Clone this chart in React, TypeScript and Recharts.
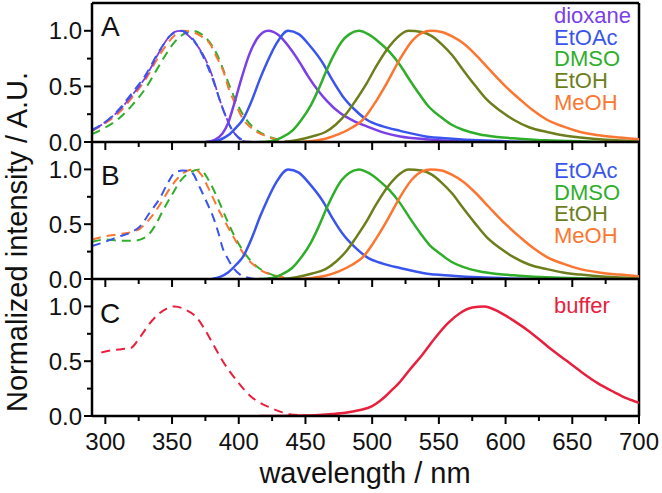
import { LineChart, Line, XAxis, YAxis, ReferenceLine } from "recharts";

const FONT = "'Liberation Sans', Arial, Helvetica, sans-serif";

// tick values
const X_TICKS = [300, 325, 350, 375, 400, 425, 450, 475, 500, 525, 550, 575, 600, 625, 650, 675, 700];
const Y_TICKS = [0, 0.25, 0.5, 0.75, 1.0];

// panel A - absorption (dashed)
const dioxaneAbsA: [number, number][] = [
  [290, 0.1], [300, 0.18], [310, 0.28], [320, 0.42], [330, 0.58], [340, 0.8], [346, 0.92], [352, 0.99],
  [356, 1.0], [362, 0.96], [368, 0.88], [374, 0.77], [380, 0.6], [386, 0.37], [390, 0.24], [394, 0.13],
  [398, 0.06], [403, 0.01], [410, 0],
];
const etoacAbsA: [number, number][] = [
  [290, 0.11], [300, 0.18], [310, 0.29], [320, 0.44], [330, 0.6], [340, 0.81], [350, 0.97], [357, 1.0],
  [364, 0.95], [372, 0.8], [380, 0.58], [388, 0.3], [394, 0.13], [400, 0.04], [408, 0],
];
const dmsoAbsA: [number, number][] = [
  [290, 0.07], [300, 0.13], [310, 0.21], [320, 0.33], [330, 0.48], [340, 0.68], [345, 0.78], [352, 0.9],
  [360, 0.98], [366, 1.0], [372, 0.97], [378, 0.9], [384, 0.78], [390, 0.6], [396, 0.42], [402, 0.27],
  [410, 0.14], [420, 0.06], [430, 0.02], [440, 0],
];
const meohAbsA: [number, number][] = [
  [290, 0.1], [300, 0.17], [310, 0.26], [320, 0.4], [330, 0.56], [340, 0.77], [345, 0.86], [352, 0.96],
  [358, 1.0], [365, 0.99], [372, 0.95], [378, 0.89], [384, 0.75], [388, 0.65], [393, 0.46], [398, 0.33],
  [403, 0.21], [410, 0.12], [421, 0.05], [430, 0.02], [440, 0],
];

// emission (solid), shared by A and B
const dioxaneEm: [number, number][] = [
  [375, 0], [382, 0.02], [388, 0.08], [392, 0.17], [396, 0.32], [402, 0.57], [408, 0.79], [415, 0.95],
  [422, 1.0], [430, 0.96], [438, 0.85], [446, 0.71], [452, 0.59], [459, 0.47], [466, 0.37], [476, 0.26],
  [486, 0.19], [496, 0.14], [510, 0.08], [521, 0.05], [540, 0.025], [560, 0.01], [600, 0],
];
const etoacEm: [number, number][] = [
  [380, 0], [386, 0.02], [392, 0.06], [398, 0.13], [403, 0.2], [410, 0.38], [416, 0.57], [421, 0.71],
  [428, 0.88], [437, 1.0], [445, 0.97], [453, 0.87], [463, 0.71], [470, 0.56], [478, 0.41], [487, 0.29],
  [496, 0.2], [508, 0.14], [521, 0.1], [540, 0.05], [560, 0.03], [580, 0.015], [620, 0],
];
const dmsoEm: [number, number][] = [
  [415, 0], [425, 0.01], [432, 0.04], [440, 0.1], [447, 0.2], [454, 0.33], [460, 0.48], [466, 0.65],
  [472, 0.8], [477, 0.9], [483, 0.97], [490, 1.0], [497, 0.97], [505, 0.9], [513, 0.81], [521, 0.69],
  [528, 0.56], [536, 0.42], [543, 0.31], [551, 0.23], [559, 0.16], [568, 0.11], [580, 0.07], [594, 0.045],
  [610, 0.03], [630, 0.015], [660, 0.005], [700, 0],
];
const etohEm: [number, number][] = [
  [435, 0], [445, 0.02], [455, 0.05], [465, 0.09], [473, 0.16], [481, 0.26], [488, 0.38], [496, 0.53],
  [503, 0.68], [511, 0.83], [518, 0.93], [527, 1.0], [537, 0.99], [545, 0.95], [552, 0.88], [560, 0.78],
  [568, 0.65], [577, 0.51], [586, 0.38], [596, 0.28], [606, 0.2], [618, 0.13], [631, 0.09], [643, 0.06],
  [656, 0.04], [675, 0.02], [700, 0.01],
];
const meohEm: [number, number][] = [
  [445, 0], [455, 0.01], [465, 0.03], [475, 0.07], [485, 0.13], [493, 0.2], [502, 0.35], [511, 0.53],
  [521, 0.75], [530, 0.91], [537, 0.98], [544, 1.0], [552, 0.99], [560, 0.95], [568, 0.89], [578, 0.78],
  [588, 0.65], [600, 0.5], [611, 0.38], [621, 0.28], [631, 0.2], [643, 0.14], [656, 0.09], [670, 0.06],
  [685, 0.04], [700, 0.025],
];

// panel B - absorption (dashed)
const etoacAbsB: [number, number][] = [
  [290, 0.3], [300, 0.34], [311, 0.39], [320, 0.43], [326, 0.48], [333, 0.6], [341, 0.74], [347, 0.88],
  [352, 0.97], [358, 0.99], [364, 0.98], [371, 0.83], [376, 0.7], [381, 0.56], [385, 0.41], [388, 0.28],
  [392, 0.18], [396, 0.1], [401, 0.04], [408, 0.01], [412, 0],
];
const dmsoAbsB: [number, number][] = [
  [290, 0.34], [300, 0.36], [311, 0.35], [322, 0.35], [330, 0.38], [337, 0.48], [343, 0.62], [350, 0.77],
  [356, 0.89], [363, 0.97], [371, 1.0], [377, 0.91], [384, 0.74], [390, 0.57], [396, 0.41], [402, 0.28],
  [408, 0.18], [415, 0.1], [421, 0.06], [430, 0.02], [440, 0],
];
const meohAbsB: [number, number][] = [
  [290, 0.36], [300, 0.39], [311, 0.41], [320, 0.43], [326, 0.46], [334, 0.56], [341, 0.68], [348, 0.82],
  [355, 0.93], [362, 0.99], [367, 1.0], [372, 0.95], [378, 0.81], [385, 0.63], [393, 0.45], [400, 0.3],
  [406, 0.19], [412, 0.12], [418, 0.07], [428, 0.03], [440, 0],
];

// panel C - buffer
const bufferAbs: [number, number][] = [
  [297, 0.58], [305, 0.6], [312, 0.61], [319, 0.62], [326, 0.72], [333, 0.84], [339, 0.92], [346, 0.98],
  [352, 1.0], [360, 0.97], [369, 0.89], [375, 0.78], [381, 0.65], [387, 0.52], [393, 0.41], [400, 0.3],
  [408, 0.19], [416, 0.12], [423, 0.08], [431, 0.04], [438, 0.015], [450, 0.005], [460, 0],
];
const bufferEm: [number, number][] = [
  [415, 0], [440, 0.003], [460, 0.01], [470, 0.018], [480, 0.03], [490, 0.052], [500, 0.09], [505, 0.13],
  [510, 0.18], [515, 0.24], [520, 0.3], [528, 0.42], [537, 0.55], [547, 0.71], [557, 0.85], [566, 0.94],
  [575, 0.99], [584, 1.0], [595, 0.95], [606, 0.87], [619, 0.76], [632, 0.63], [645, 0.51], [657, 0.4],
  [669, 0.3], [681, 0.22], [691, 0.16], [700, 0.12],
];

const legendA = ["dioxane", "EtOAc", "DMSO", "EtOH", "MeOH"];
const legendB = ["EtOAc", "DMSO", "EtOH", "MeOH"];
const legendC = ["buffer"];

const COLORS: Record<string, string> = {
  dioxane: "#7a3fe6",
  EtOAc: "#3a55ee",
  DMSO: "#2fae2a",
  EtOH: "#6d7f1c",
  MeOH: "#fb7630",
  buffer: "#e8203e",
};

const pts = (arr: [number, number][]) => arr.map(([x, y]) => ({ x, y }));

type Series = { data: [number, number][]; color: string; dashed?: boolean; w?: number; dash?: string };

const panelA: Series[] = [
  { data: dmsoAbsA, color: COLORS.DMSO, dashed: true },
  { data: meohAbsA, color: COLORS.MeOH, dashed: true },
  { data: dioxaneAbsA, color: COLORS.dioxane, dashed: true, dash: "12 2", w: 1.8 },
  { data: etoacAbsA, color: COLORS.EtOAc, dashed: true },
  { data: dioxaneEm, color: COLORS.dioxane },
  { data: etoacEm, color: COLORS.EtOAc },
  { data: dmsoEm, color: COLORS.DMSO },
  { data: etohEm, color: COLORS.EtOH },
  { data: meohEm, color: COLORS.MeOH },
];
const panelB: Series[] = [
  { data: dmsoAbsB, color: COLORS.DMSO, dashed: true },
  { data: meohAbsB, color: COLORS.MeOH, dashed: true },
  { data: etoacAbsB, color: COLORS.EtOAc, dashed: true },
  { data: etoacEm, color: COLORS.EtOAc },
  { data: dmsoEm, color: COLORS.DMSO },
  { data: etohEm, color: COLORS.EtOH },
  { data: meohEm, color: COLORS.MeOH },
];
const panelC: Series[] = [
  { data: bufferAbs, color: COLORS.buffer, dashed: true },
  { data: bufferEm, color: COLORS.buffer },
];

const XTick = (props: any) => {
  const { x, y, payload, showLabel } = props;
  const major = payload.value % 50 === 0;
  return (
    <g>
      <line x1={x} x2={x} y1={y} y2={y + (major ? 8 : 5)} stroke="#000" strokeWidth={2} />
      {showLabel && major && (
        <text x={x} y={y + 34} textAnchor="middle" fontSize={24} fontFamily={FONT} fill="#111">
          {payload.value}
        </text>
      )}
    </g>
  );
};

const YTick = (props: any) => {
  const { x, y, payload } = props;
  const v = payload.value;
  const major = Math.abs(v * 2 - Math.round(v * 2)) < 1e-6;
  return (
    <g>
      <line x1={x - (major ? 8 : 5)} x2={x} y1={y} y2={y} stroke="#000" strokeWidth={2} />
      {major && (
        <text x={x - 10} y={y} dy="0.36em" textAnchor="end" fontSize={24} fontFamily={FONT} fill="#111">
          {v.toFixed(1)}
        </text>
      )}
    </g>
  );
};

const Panel = ({ series, height, axisH, top, marginTop, labels, topBorder }: any) => (
  <div style={{ position: "absolute", left: 0, top }}>
    <LineChart width={662} height={height} margin={{ top: marginTop, right: 23, bottom: 0, left: 0 }}>
      <XAxis
        type="number"
        dataKey="x"
        domain={[290, 700]}
        ticks={X_TICKS}
        allowDataOverflow
        height={axisH}
        tickSize={0}
        tickMargin={0}
        tickLine={false}
        tick={<XTick showLabel={labels} />}
        axisLine={{ stroke: "#000", strokeWidth: 2.5 }}
      />
      <YAxis
        type="number"
        domain={[0, 1.25]}
        ticks={Y_TICKS}
        allowDataOverflow
        width={92}
        tickSize={0}
        tickMargin={0}
        tickLine={false}
        tick={<YTick />}
        axisLine={{ stroke: "#000", strokeWidth: 2.5 }}
      />
      <ReferenceLine x={700} stroke="#000" strokeWidth={2.5} ifOverflow="visible" />
      {topBorder && <ReferenceLine y={1.25} stroke="#000" strokeWidth={2.5} ifOverflow="visible" />}
      {series.map((s: Series, i: number) => (
        <Line
          key={i}
          data={pts(s.data)}
          dataKey="y"
          type="monotone"
          stroke={s.color}
          strokeWidth={s.w ?? (s.dashed ? 2 : 2.5)}
          strokeDasharray={s.dashed ? s.dash ?? "9 6" : undefined}
          dot={false}
          activeDot={false}
          isAnimationActive={false}
        />
      ))}
    </LineChart>
  </div>
);

export default function App() {
  return (
    <div style={{ position: "absolute", left: 0, top: 0, width: 662, height: 493, background: "#fff", overflow: "hidden" }}>
      <Panel series={panelC} top={279} height={214} axisH={77} marginTop={0} labels />
      <Panel series={panelB} top={142} height={155} axisH={18} marginTop={0} />
      <Panel series={panelA} top={0} height={160} axisH={18} marginTop={3} topBorder />
      <svg width={662} height={493} style={{ position: "absolute", left: 0, top: 0, pointerEvents: "none" }} fontFamily={FONT}>
        <text x={101} y={36} fontSize={28} fill="#111">A</text>
        <text x={101} y={185} fontSize={28} fill="#111">B</text>
        <text x={100} y={323} fontSize={28} fill="#111">C</text>
        {legendA.map((n, i) => (
          <text key={n} x={554} y={23 + i * 21.7} fontSize={22} fill={COLORS[n]}>{n}</text>
        ))}
        {legendB.map((n, i) => (
          <text key={n} x={554} y={178 + i * 21.5} fontSize={22} fill={COLORS[n]}>{n}</text>
        ))}
        {legendC.map((n) => (
          <text key={n} x={554} y={313} fontSize={22} fill={COLORS[n]}>{n}</text>
        ))}
        <text x={365} y={483} textAnchor="middle" fontSize={29} fill="#111">wavelength / nm</text>
        <text x={27} y={242} textAnchor="middle" fontSize={29} fill="#111" transform="rotate(-90 27 242)">
          Normalized intensity / A.U.
        </text>
      </svg>
    </div>
  );
}
